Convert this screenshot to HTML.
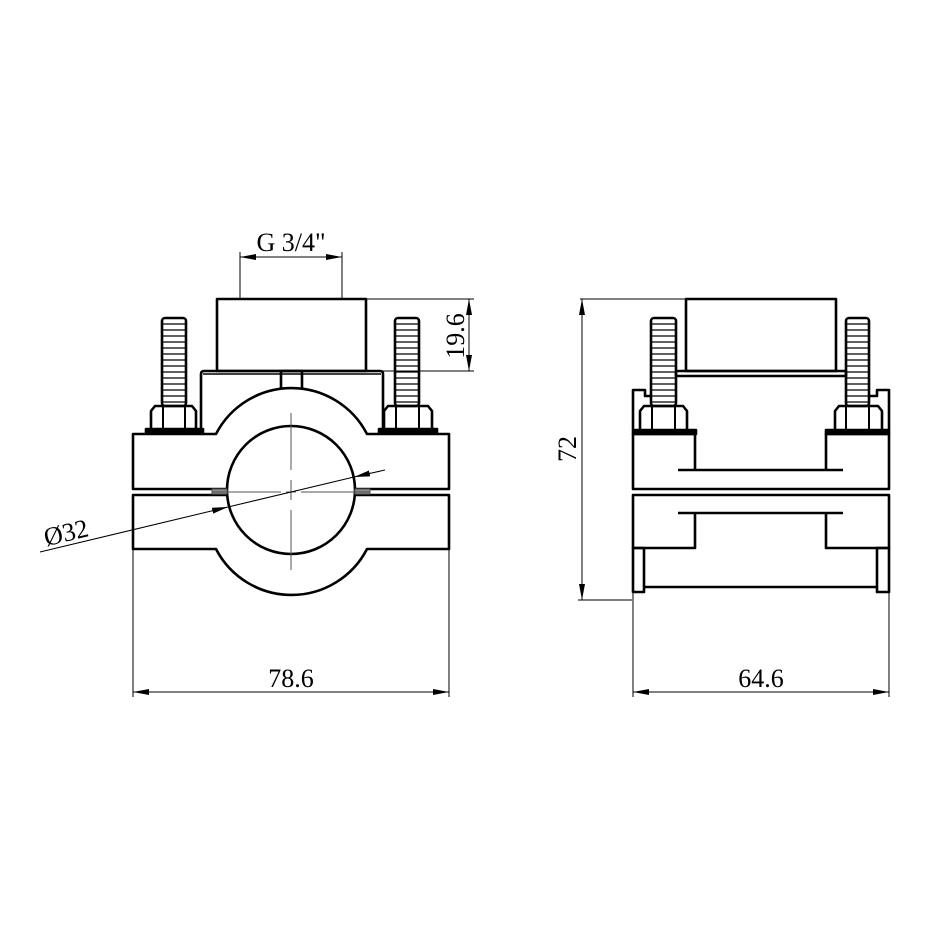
<!DOCTYPE html>
<html><head><meta charset="utf-8"><style>html,body{margin:0;padding:0;background:#fff}svg{display:block}text{font-family:"Liberation Serif","DejaVu Serif",serif}</style></head>
<body>
<svg width="930" height="930" viewBox="0 0 930 930" xmlns="http://www.w3.org/2000/svg">
<defs>
<marker id="ar" viewBox="0 0 16 6" refX="16" refY="3" markerWidth="16" markerHeight="6" markerUnits="userSpaceOnUse" orient="auto-start-reverse"><path d="M0,0 L16,3 L0,6 Z" fill="#000"/></marker>
</defs>
<rect width="930" height="930" fill="#fff"/>
<g fill="none" stroke="#000" stroke-width="2.6" stroke-linejoin="round">
<!-- LEFT VIEW -->
<rect x="217" y="299" width="149" height="72"/>
<path d="M201,434 V374 Q201,371 204,371 H380 Q383,371 383,374 V434"/>
<line x1="203" y1="374" x2="381" y2="374" stroke-width="1.5"/>
<rect x="281" y="371" width="21" height="20"/>
<path d="M133,434 H216 A85,85 0 0 1 367,434 H449 V489 H133 Z" fill="#fff"/>
<path d="M133,495 H449 V549 H367 A85,85 0 0 1 216,549 H133 Z" fill="#fff"/>
<circle cx="291" cy="490" r="64" fill="#fff"/>
<rect x="162" y="318" width="24" height="88" rx="3"/>
<rect x="395" y="318" width="24" height="88" rx="3"/>
<path d="M151,428 V411 L155,406 H192 L196,411 V428"/>
<line x1="163" y1="406" x2="163" y2="428" stroke-width="2"/>
<line x1="185" y1="406" x2="185" y2="428" stroke-width="2"/>
<path d="M384,428 V411 L388,406 H428 L432,411 V428"/>
<line x1="396" y1="406" x2="396" y2="428" stroke-width="2"/>
<line x1="419" y1="406" x2="419" y2="428" stroke-width="2"/>
<rect x="146" y="429" width="57" height="4" fill="#000"/>
<rect x="379" y="429" width="58" height="4" fill="#000"/>
<!-- RIGHT VIEW -->
<rect x="686" y="299" width="150" height="72"/>
<rect x="676" y="371" width="170" height="5"/>
<path d="M633,430 V390 H645 V396 H651"/>
<path d="M889,430 V390 H877 V396 H869"/>
<rect x="651" y="318" width="25" height="88" rx="3"/>
<rect x="846" y="318" width="23" height="88" rx="3"/>
<path d="M640,430 V411 L644,406 H683 L687,411 V430"/>
<line x1="652" y1="406" x2="652" y2="430" stroke-width="2"/>
<line x1="675" y1="406" x2="675" y2="430" stroke-width="2"/>
<path d="M835,430 V411 L839,406 H878 L882,411 V430"/>
<line x1="846" y1="406" x2="846" y2="430" stroke-width="2"/>
<line x1="869" y1="406" x2="869" y2="430" stroke-width="2"/>
<rect x="633" y="430" width="63" height="4" fill="#000"/>
<rect x="826" y="430" width="63" height="4" fill="#000"/>
<path d="M695,470 V434 H633 V489 H889 V434 H826 V470"/>
<line x1="678" y1="470" x2="843" y2="470"/>
<path d="M826,513 V548 H889 V495 H633 V548 H695 V513"/>
<line x1="678" y1="513" x2="843" y2="513"/>
<rect x="633" y="548" width="11" height="44"/>
<rect x="877" y="548" width="12" height="44"/>
<line x1="644" y1="587" x2="877" y2="587"/>
</g>
<g stroke="#000" stroke-width="1.2">
<path d="M163,324H185M163,330H185M163,336H185M163,342H185M163,348H185M163,354H185M163,360H185M163,366H185M163,372H185M163,378H185M163,384H185M163,390H185M163,396H185M163,402H185"/>
<path d="M396,324H418M396,330H418M396,336H418M396,342H418M396,348H418M396,354H418M396,360H418M396,366H418M396,372H418M396,378H418M396,384H418M396,390H418M396,396H418M396,402H418"/>
<path d="M652,324H675M652,330H675M652,336H675M652,342H675M652,348H675M652,354H675M652,360H675M652,366H675M652,372H675M652,378H675M652,384H675M652,390H675M652,396H675M652,402H675"/>
<path d="M847,324H868M847,330H868M847,336H868M847,342H868M847,348H868M847,354H868M847,360H868M847,366H868M847,372H868M847,378H868M847,384H868M847,390H868M847,396H868M847,402H868"/>
</g>
<g stroke="#555" stroke-width="1">
<rect x="212" y="489" width="15" height="5" fill="#888"/>
<rect x="355" y="489" width="15" height="5" fill="#888"/>
<path d="M291,413 V470 M291,480 V500 M291,510 V570"/>
<path d="M212,492 H281 M286,492 H296 M301,492 H370"/>
</g>
<g stroke="#000" stroke-width="1" fill="none">
<line x1="240" y1="252" x2="240" y2="299"/>
<line x1="342" y1="252" x2="342" y2="299"/>
<line x1="240" y1="257" x2="342" y2="257" marker-start="url(#ar)" marker-end="url(#ar)"/>
<line x1="366" y1="299" x2="474" y2="299"/>
<line x1="383" y1="371" x2="474" y2="371"/>
<line x1="469" y1="299" x2="469" y2="371" marker-start="url(#ar)" marker-end="url(#ar)"/>
<line x1="40" y1="552" x2="228" y2="507" marker-end="url(#ar)"/>
<line x1="228" y1="507" x2="354" y2="477"/>
<line x1="385" y1="470" x2="354" y2="477" marker-end="url(#ar)"/>
<line x1="133" y1="549" x2="133" y2="697"/>
<line x1="449" y1="549" x2="449" y2="697"/>
<line x1="133" y1="692" x2="449" y2="692" marker-start="url(#ar)" marker-end="url(#ar)"/>
<line x1="580" y1="299" x2="686" y2="299"/>
<line x1="578" y1="600" x2="632" y2="600"/>
<line x1="582" y1="299" x2="582" y2="600" marker-start="url(#ar)" marker-end="url(#ar)"/>
<line x1="633" y1="592" x2="633" y2="697"/>
<line x1="889" y1="592" x2="889" y2="697"/>
<line x1="633" y1="692" x2="889" y2="692" marker-start="url(#ar)" marker-end="url(#ar)"/>
</g>
<g font-size="26" fill="#000" text-anchor="middle">
<text x="291" y="251">G 3/4"</text>
<text x="291" y="687">78.6</text>
<text x="761" y="687">64.6</text>
<text transform="translate(464,336) rotate(-90)">19.6</text>
<text transform="translate(576,449) rotate(-90)">72</text>
<text transform="translate(68,541) rotate(-13.4)">Ø32</text>
</g>
</svg>
</body></html>
